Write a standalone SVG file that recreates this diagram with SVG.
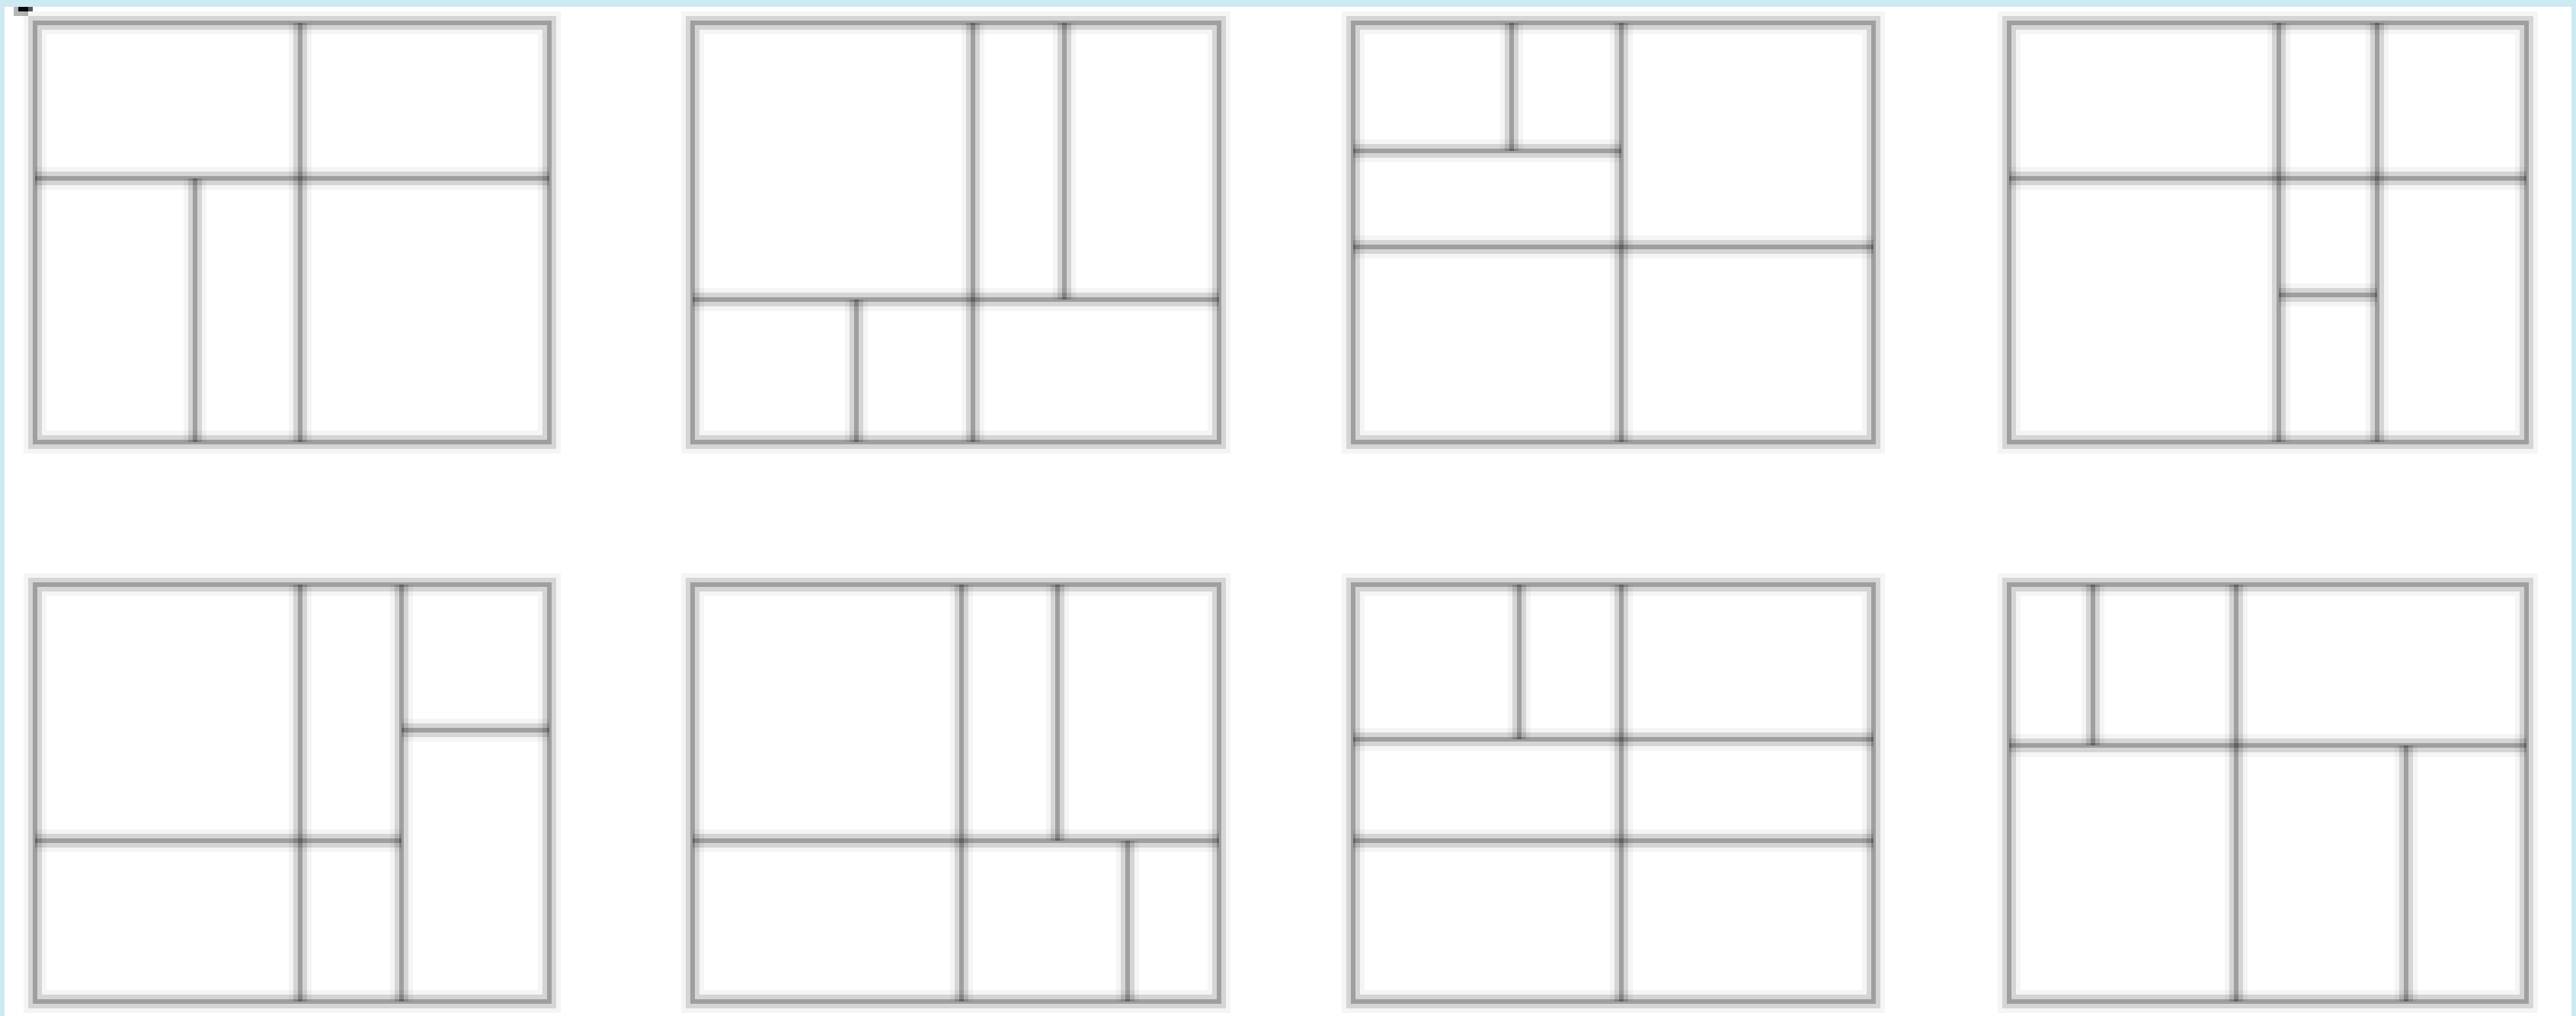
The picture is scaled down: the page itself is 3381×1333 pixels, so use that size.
<svg xmlns="http://www.w3.org/2000/svg" xmlns:xlink="http://www.w3.org/1999/xlink" width="3381" height="1333" viewBox="0 0 3381 1333">
<style>
.outer{stroke:#000;stroke-opacity:.04;stroke-width:30;fill:none}
.halo{stroke:#000;stroke-opacity:.13;stroke-width:18;fill:none}
.core{stroke:#000;stroke-opacity:.25;stroke-width:6;fill:none}
.edge{fill:#cde9f1}
</style>
<defs>
<g id="p1">
<rect x="46" y="30" width="675" height="550"/>
<line x1="394" y1="30" x2="394" y2="580"/>
<line x1="46" y1="234" x2="721" y2="234"/>
<line x1="256" y1="234" x2="256" y2="580"/>
</g>
<g id="p2">
<rect x="909" y="30" width="691" height="550"/>
<line x1="1277" y1="30" x2="1277" y2="580"/>
<line x1="1397" y1="30" x2="1397" y2="393"/>
<line x1="909" y1="393" x2="1600" y2="393"/>
<line x1="1124" y1="393" x2="1124" y2="580"/>
</g>
<g id="p3">
<rect x="1776" y="30" width="683" height="550"/>
<line x1="2128" y1="30" x2="2128" y2="580"/>
<line x1="1776" y1="198" x2="2128" y2="198"/>
<line x1="1984" y1="30" x2="1984" y2="198"/>
<line x1="1776" y1="324" x2="2459" y2="324"/>
</g>
<g id="p4">
<rect x="2637" y="30" width="679" height="550"/>
<line x1="2991" y1="30" x2="2991" y2="580"/>
<line x1="3120" y1="30" x2="3120" y2="580"/>
<line x1="2637" y1="234" x2="3316" y2="234"/>
<line x1="2991" y1="387" x2="3120" y2="387"/>
</g>
<g id="p5">
<rect x="46" y="767" width="675" height="547"/>
<line x1="394" y1="767" x2="394" y2="1314"/>
<line x1="527" y1="767" x2="527" y2="1314"/>
<line x1="46" y1="1103" x2="527" y2="1103"/>
<line x1="527" y1="958" x2="721" y2="958"/>
</g>
<g id="p6">
<rect x="909" y="767" width="691" height="547"/>
<line x1="1262" y1="767" x2="1262" y2="1314"/>
<line x1="1388" y1="767" x2="1388" y2="1103"/>
<line x1="909" y1="1103" x2="1600" y2="1103"/>
<line x1="1480" y1="1103" x2="1480" y2="1314"/>
</g>
<g id="p7">
<rect x="1776" y="767" width="683" height="547"/>
<line x1="2128" y1="767" x2="2128" y2="1314"/>
<line x1="1994" y1="767" x2="1994" y2="970"/>
<line x1="1776" y1="970" x2="2459" y2="970"/>
<line x1="1776" y1="1103" x2="2459" y2="1103"/>
</g>
<g id="p8">
<rect x="2637" y="767" width="679" height="547"/>
<line x1="2747" y1="767" x2="2747" y2="978"/>
<line x1="2935" y1="767" x2="2935" y2="1314"/>
<line x1="2637" y1="978" x2="3316" y2="978"/>
<line x1="3158" y1="978" x2="3158" y2="1314"/>
</g>
</defs>
<rect x="0" y="0" width="3381" height="1333" fill="#fff"/>
<g id="frame-edge">
<rect class="edge" x="0" y="0" width="3381" height="9"/>
<rect class="edge" x="0" y="0" width="6" height="1333"/>
<rect class="edge" x="3375" y="0" width="6" height="1333"/>
</g>
<g id="mark">
<rect x="18" y="9" width="19" height="12" fill="#b5b5b5"/>
<rect x="24" y="9" width="13" height="6" fill="#080808"/>
<rect x="37" y="9" width="6" height="6" fill="#555"/>
</g>
<g id="panel-1"><use xlink:href="#p1" class="outer"/><use xlink:href="#p1" class="halo"/><use xlink:href="#p1" class="core"/></g>
<g id="panel-2"><use xlink:href="#p2" class="outer"/><use xlink:href="#p2" class="halo"/><use xlink:href="#p2" class="core"/></g>
<g id="panel-3"><use xlink:href="#p3" class="outer"/><use xlink:href="#p3" class="halo"/><use xlink:href="#p3" class="core"/></g>
<g id="panel-4"><use xlink:href="#p4" class="outer"/><use xlink:href="#p4" class="halo"/><use xlink:href="#p4" class="core"/></g>
<g id="panel-5"><use xlink:href="#p5" class="outer"/><use xlink:href="#p5" class="halo"/><use xlink:href="#p5" class="core"/></g>
<g id="panel-6"><use xlink:href="#p6" class="outer"/><use xlink:href="#p6" class="halo"/><use xlink:href="#p6" class="core"/></g>
<g id="panel-7"><use xlink:href="#p7" class="outer"/><use xlink:href="#p7" class="halo"/><use xlink:href="#p7" class="core"/></g>
<g id="panel-8"><use xlink:href="#p8" class="outer"/><use xlink:href="#p8" class="halo"/><use xlink:href="#p8" class="core"/></g>
</svg>
